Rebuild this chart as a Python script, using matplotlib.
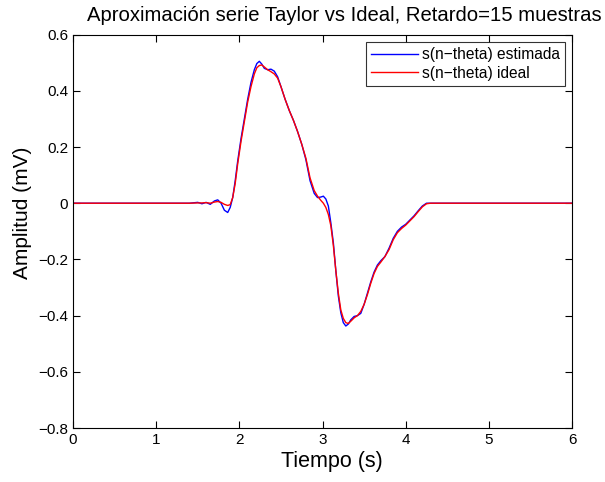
import numpy as np
import matplotlib
matplotlib.use("Agg")
import matplotlib.pyplot as plt

plt.rcParams['font.family'] = ['Liberation Sans', 'DejaVu Sans']

# Señal estimada por serie de Taylor (tiempo en s, amplitud en mV)
t_est = [0.00, 1.40, 1.50, 1.55, 1.60, 1.65, 1.70, 1.74, 1.78, 1.82, 1.86, 1.89,
         1.92, 1.95, 1.98, 2.02, 2.06, 2.10, 2.14, 2.18, 2.21, 2.24, 2.27, 2.30,
         2.34, 2.38, 2.42, 2.46, 2.50, 2.55, 2.60, 2.65, 2.70, 2.75, 2.80, 2.85,
         2.90, 2.94, 2.98, 3.01, 3.04, 3.07, 3.10, 3.13, 3.16, 3.19, 3.22, 3.25,
         3.28, 3.31, 3.34, 3.38, 3.42, 3.46, 3.50, 3.54, 3.58, 3.62, 3.66, 3.70,
         3.75, 3.80, 3.85, 3.90, 3.95, 4.00, 4.05, 4.10, 4.15, 4.20, 4.25, 4.30,
         6.00]
s_est = [0.000, 0.000, 0.003, -0.002, 0.003, -0.004, 0.008, 0.012, 0.000, -0.025, -0.033, -0.015,
         0.020, 0.080, 0.150, 0.230, 0.300, 0.370, 0.430, 0.475, 0.497, 0.505, 0.495, 0.480,
         0.475, 0.477, 0.470, 0.450, 0.415, 0.370, 0.330, 0.295, 0.255, 0.210, 0.155, 0.080,
         0.035, 0.020, 0.022, 0.025, 0.015, -0.010, -0.070, -0.140, -0.240, -0.330, -0.390, -0.425,
         -0.437, -0.430, -0.415, -0.403, -0.400, -0.392, -0.360, -0.320, -0.280, -0.245, -0.220, -0.205,
         -0.190, -0.160, -0.125, -0.100, -0.085, -0.075, -0.060, -0.045, -0.027, -0.010, 0.000, 0.000,
         0.000]

# Señal ideal retardada
t_ideal = t_est
s_ideal = [0.000, 0.000, 0.001, 0.001, 0.002, 0.000, 0.004, 0.006, 0.003, -0.004, -0.008, -0.005,
           0.020, 0.070, 0.140, 0.220, 0.290, 0.360, 0.415, 0.460, 0.482, 0.490, 0.492, 0.485,
           0.475, 0.468, 0.460, 0.445, 0.415, 0.370, 0.330, 0.295, 0.255, 0.210, 0.160, 0.090,
           0.045, 0.025, 0.010, 0.000, -0.015, -0.040, -0.080, -0.150, -0.240, -0.320, -0.380, -0.410,
           -0.425, -0.428, -0.420, -0.408, -0.400, -0.385, -0.360, -0.325, -0.285, -0.250, -0.225, -0.210,
           -0.190, -0.165, -0.130, -0.105, -0.090, -0.078, -0.063, -0.048, -0.030, -0.013, -0.002, 0.000,
           0.000]

fig = plt.figure(figsize=(6.05, 4.82), dpi=100)
ax = fig.add_axes([0.1207, 0.112, 0.8248, 0.8162])

ax.plot(t_est, s_est, color='blue', linewidth=1.0, label='s(n\u2212theta) estimada')
ax.plot(t_ideal, s_ideal, color='red', linewidth=1.0, label='s(n\u2212theta) ideal')

ax.set_xlim(0, 6)
ax.set_ylim(-0.8, 0.6)
ax.set_xticks(np.arange(0, 7, 1))
ax.set_yticks(np.arange(-0.8, 0.61, 0.2))
ax.set_yticklabels(['\u22120.8', '\u22120.6', '\u22120.4', '\u22120.2', '0', '0.2', '0.4', '0.6'])
ax.tick_params(direction='in', top=True, right=True, length=5, labelsize=11, width=0.8)
for sp in ax.spines.values():
    sp.set_linewidth(0.8)

ax.set_xlabel('Tiempo (s)', fontsize=15.5)
ax.xaxis.set_label_coords(0.519, -0.058)
ax.set_ylabel('Amplitud (mV)', fontsize=15)
ax.yaxis.set_label_coords(-0.082, 0.547)
fig.text(0.143, 0.9564, 'Aproximación serie Taylor vs Ideal, Retardo=15 muestras',
         fontsize=14.6, ha='left', va='baseline')

leg = ax.legend(loc='upper right', fontsize=11.2, frameon=True, fancybox=False,
                borderaxespad=0.45, handlelength=3.0, handletextpad=0.25,
                borderpad=0.35, labelspacing=0.25)
leg.get_frame().set_edgecolor('black')
leg.get_frame().set_linewidth(0.8)

fig.savefig('out.png', dpi=100)
